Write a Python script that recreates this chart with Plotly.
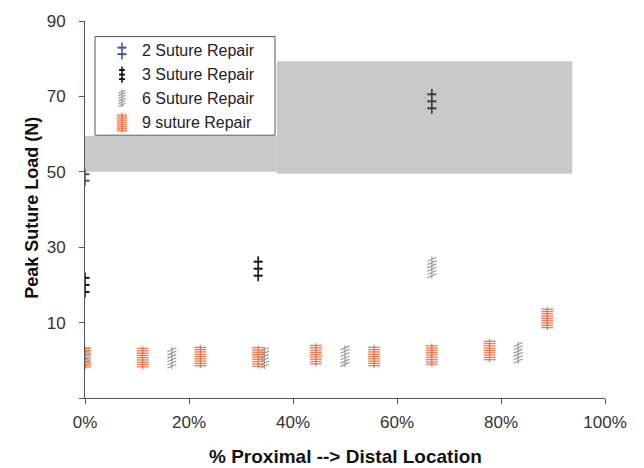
import plotly.graph_objects as go

# Peak suture load by suture location along the repair (% proximal -> distal)
loc_2 = [0.0]
load_2 = [48.5]

loc_3 = [0.0, 33.3, 66.7]
load_3 = [20.0, 24.3, 68.7]

loc_6 = [0.0, 16.7, 34.5, 50.0, 66.7, 83.3]
load_6 = [0.7, 0.6, 0.6, 1.1, 24.6, 2.0]

loc_9 = [0.0, 11.1, 22.2, 33.3, 44.4, 55.6, 66.7, 77.8, 88.9]
load_9 = [0.7, 0.7, 1.0, 0.9, 1.5, 1.0, 1.4, 2.6, 11.1]

series_names = ["2 Suture Repair", "3 Suture Repair", "6 Suture Repair", "9 suture Repair"]

# Shaded reference bands: (x start %, x end %, low N, high N)
band_x0 = [0.0, 36.9]
band_x1 = [36.9, 93.7]
band_lo = [50.0, 49.5]
band_hi = [59.5, 79.3]

x_ticks = [0, 20, 40, 60, 80, 100]
x_tick_text = ["0%", "20%", "40%", "60%", "80%", "100%"]
y_ticks = [-10, 10, 30, 50, 70, 90]
y_tick_text = ["", "10", "30", "50", "70", "90"]

FONT = "Liberation Sans, Arial, sans-serif"

# glyph style per series: colour, bar count, bar half-width, bar spacing, stem half-height, slant
styles = [
    dict(color="#4052b5", n=2, hw=4.5, gap=6.5, stem=8.5, slant=0, bw=2.0, sw=1.6, op=1.0),
    dict(color="#141414", n=3, hw=4.5, gap=7.0, stem=12.5, slant=0, bw=2.0, sw=1.6, op=1.0),
    dict(color="#9a9a9a", n=6, hw=4.5, gap=3.3, stem=11.0, slant=2.0, bw=1.2, sw=1.2, op=1.0),
    dict(color="#ec6435", n=9, hw=6.0, gap=2.3, stem=11.5, slant=0, bw=1.3, sw=1.3, op=0.85),
]


def glyph(xa, ya, st, xref, yref, scale=1.0, color=None):
    """Stacked-bar glyph anchored at (xa, ya), sized in pixels."""
    col = color or st["color"]
    out = []
    common = dict(type="line", xref=xref, yref=yref, xsizemode="pixel",
                  ysizemode="pixel", xanchor=xa, yanchor=ya, layer="above",
                  opacity=st["op"])
    n = st["n"]
    for i in range(n):
        off = (i - (n - 1) / 2) * st["gap"] * scale
        out.append(dict(common, x0=-st["hw"] * scale, x1=st["hw"] * scale,
                        y0=off - st["slant"] * scale, y1=off + st["slant"] * scale,
                        line=dict(color=col, width=st["bw"])))
    out.append(dict(common, x0=0, x1=0, y0=-st["stem"] * scale, y1=st["stem"] * scale,
                    line=dict(color=col, width=st["sw"])))
    return out


fig = go.Figure()

shapes = []
for a, b, lo, hi in zip(band_x0, band_x1, band_lo, band_hi):
    shapes.append(dict(type="rect", xref="x", yref="y", x0=a, x1=b, y0=lo, y1=hi,
                       fillcolor="#c9c9c9", line=dict(width=0), layer="below"))

all_series = [(loc_2, load_2), (loc_3, load_3), (loc_6, load_6), (loc_9, load_9)]
for (xs, ys), name, st in zip(all_series, series_names, styles):
    fig.add_trace(go.Scatter(x=xs, y=ys, mode="markers", name=name,
                             marker=dict(size=12, opacity=0, color=st["color"]),
                             showlegend=False))
    for x, y in zip(xs, ys):
        col = st["color"]
        if st["n"] == 3 and y > 50:
            col = "#3c3c3c"
        shapes += glyph(x, y, st, "x", "y", color=col)

# Legend box drawn in paper coordinates
L, T, W, H = 85.0, 15.7, 520.0, 382.3


def px_x(p):
    return (p - L) / W


def px_y(p):
    return (T + H - p) / H


shapes.append(dict(type="rect", xref="paper", yref="paper",
                   x0=px_x(95), x1=px_x(275), y0=px_y(131.5), y1=px_y(31.5),
                   fillcolor="white", line=dict(color="#555555", width=1), layer="above"))

annotations = []
row_y = [46, 70, 94, 119]
leg_scale = [1.0, 0.65, 0.8, 0.85]
for name, st, ry, sc in zip(series_names, styles, row_y, leg_scale):
    shapes += glyph(px_x(122), px_y(ry), st, "paper", "paper", scale=sc)
    annotations.append(dict(x=px_x(140), y=px_y(ry), xref="paper", yref="paper",
                            text=name, showarrow=False, xanchor="left", yanchor="middle",
                            font=dict(family=FONT, size=16, color="#222222")))

annotations.append(dict(x=px_x(32), y=px_y(205), xref="paper", yref="paper",
                        text="<b>Peak Suture Load (N)</b>", textangle=-90, showarrow=False,
                        xanchor="center", yanchor="middle",
                        font=dict(family=FONT, size=18, color="#111111")))
annotations.append(dict(x=px_x(345), y=px_y(457), xref="paper", yref="paper",
                        text="<b>% Proximal --> Distal Location</b>", showarrow=False,
                        xanchor="center", yanchor="middle",
                        font=dict(family=FONT, size=19, color="#111111")))

fig.update_layout(
    width=644, height=468,
    margin=dict(l=85, r=39, t=15.7, b=70.0),
    paper_bgcolor="white", plot_bgcolor="white",
    shapes=shapes, annotations=annotations,
    showlegend=False,
    font=dict(family=FONT, size=17, color="#333333"),
)
fig.update_xaxes(range=[0, 100], tickvals=x_ticks, ticktext=x_tick_text,
                 showgrid=False, zeroline=False, showline=True, linecolor="#555555",
                 linewidth=1, ticks="outside", ticklen=5, tickcolor="#555555",
                 ticklabelstandoff=4,
                 tickfont=dict(family=FONT, size=17, color="#333333"))
fig.update_yaxes(range=[-10, 90], tickvals=y_ticks, ticktext=y_tick_text,
                 showgrid=False, zeroline=False, showline=True, linecolor="#555555",
                 linewidth=1, ticks="outside", ticklen=5, tickcolor="#555555",
                 ticklabelstandoff=10,
                 tickfont=dict(family=FONT, size=17, color="#333333"))

fig.write_html("out.html")
